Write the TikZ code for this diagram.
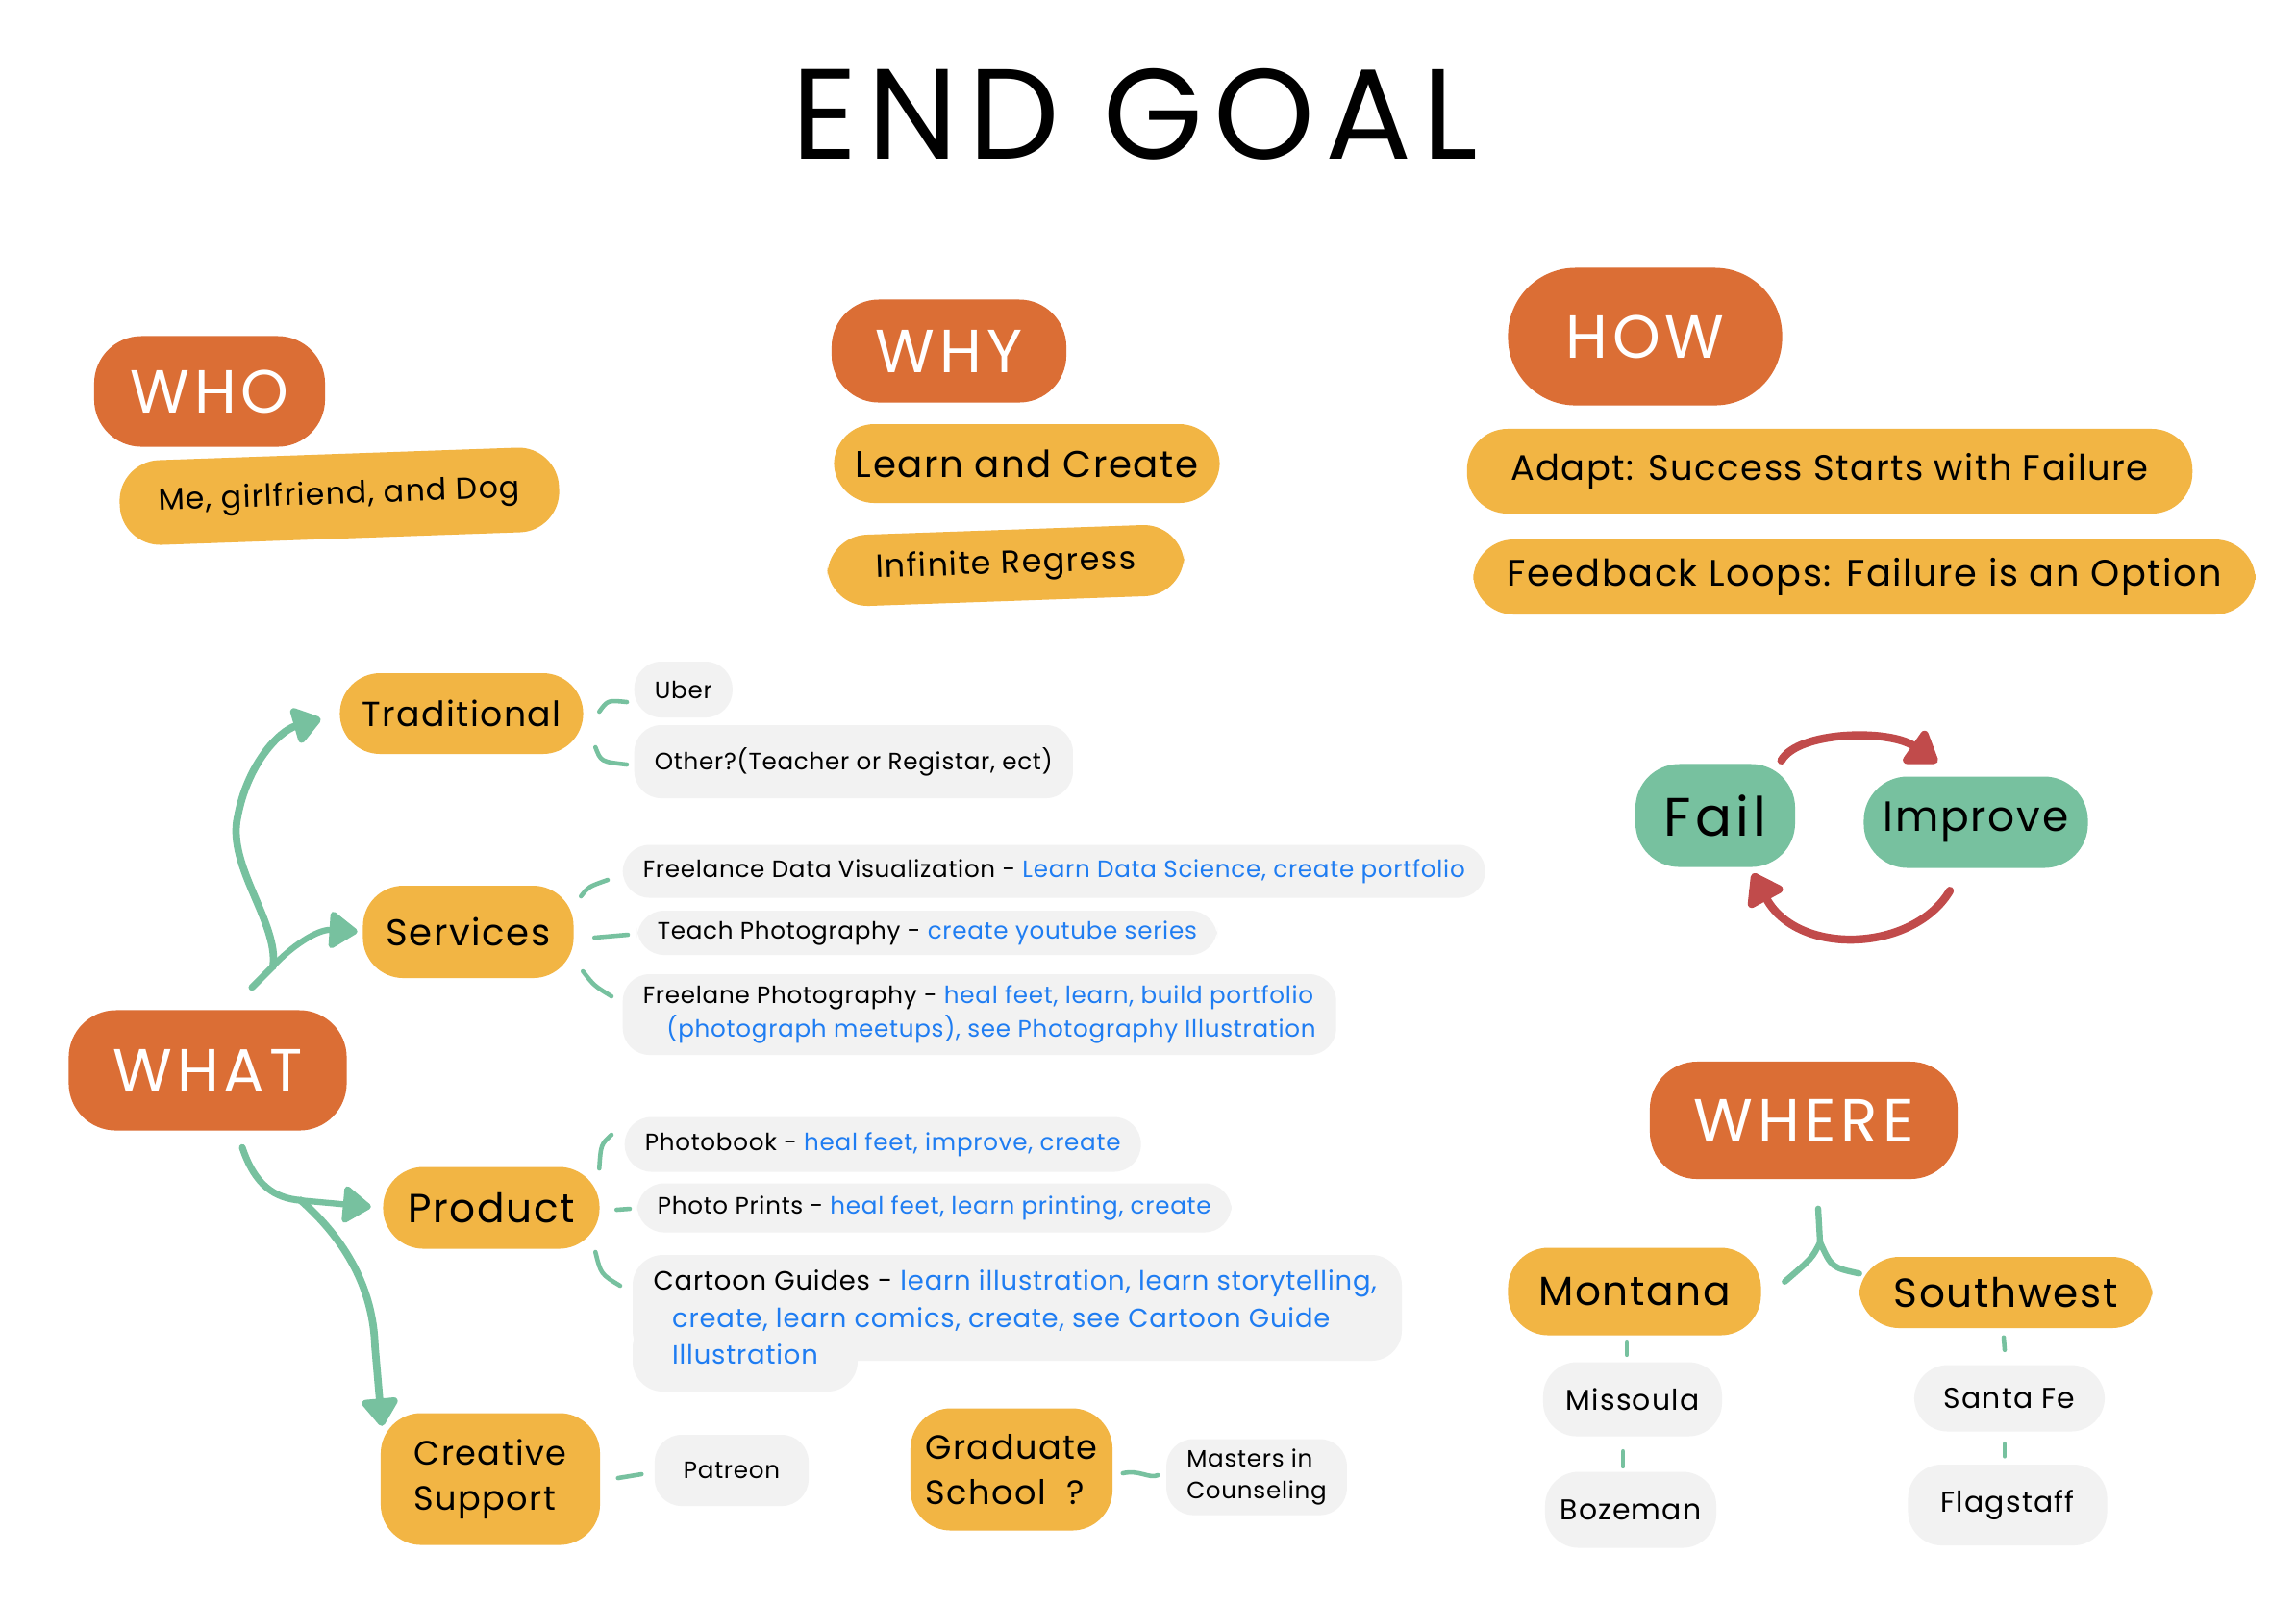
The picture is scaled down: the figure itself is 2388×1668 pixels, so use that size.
\documentclass[tikz,border=0pt]{standalone}
\usepackage{fontspec}
\setmainfont{Poppins}
\newfontfamily\fontLsA[LetterSpace=8]{Poppins}
\newfontfamily\fontLsB[LetterSpace=4]{Poppins}
\newfontfamily\fontLsC[LetterSpace=3]{Poppins}
\usetikzlibrary{arrows.meta,calc}
\definecolor{cOrange}{HTML}{DB6E35}
\definecolor{cYellow}{HTML}{F2B544}
\definecolor{cGreen}{HTML}{77C19F}
\definecolor{cRed}{HTML}{C14B4B}
\definecolor{cGray}{HTML}{F2F2F2}
\definecolor{cBlue}{HTML}{1F7DF2}
\newcommand\fsz[2]{\fontsize{#1pt}{#2pt}\selectfont}
\begin{document}
\begin{tikzpicture}[x=0.01cm,y=-0.01cm,
  cat/.style={fill=cOrange,text=white,font=\fontLsA\fsz{18}{22},inner sep=0pt,rounded corners=14pt},
  ylw/.style={fill=cYellow,text=black,font=\fontLsB\fsz{11.5}{14},inner sep=0pt,rounded corners=12pt},
  grn/.style={fill=cGreen,text=black,font=\fontLsB\fsz{12.5}{15},inner sep=0pt,rounded corners=13pt},
  gry/.style={fill=cGray,text=black,font=\fontLsC\fsz{7}{10},inner xsep=6pt,inner ysep=0pt,rounded corners=8pt},
  gryb/.style={fill=cGray,text=black,font=\fontLsB\fsz{8.5}{10},inner sep=0pt,rounded corners=10pt},
  tick/.style={draw=cGreen,line width=1.3pt,line cap=round},
  conn/.style={draw=cGreen,line width=1.8pt,line cap=round},
  garrow/.style={draw=cGreen,line width=2.2pt,line cap=round,-{Triangle[length=9pt,width=12pt,round]}},
  rarrow/.style={draw=cRed,line width=2.4pt,line cap=round,-{Triangle[length=10pt,width=13pt,round]}}
]
\useasboundingbox (0,0) rectangle (2388,1668);
\fill[white] (0,0) rectangle (2388,1668);

% title
\node[font=\fontLsA\fsz{38}{46}] (title) at (1180,119) {END GOAL};

% WHO
\node[cat,minimum width=2.40cm,minimum height=1.15cm] (who) at (218,407) {WHO};
\node[ylw,rotate=2,minimum width=4.57cm,minimum height=0.88cm,font=\fontLsB\fsz{9}{11}] (who1) at (353,516) {Me, girlfriend, and Dog};

% WHY
\node[cat,minimum width=2.44cm,minimum height=1.07cm] (why) at (987,365) {WHY};
\node[ylw,minimum width=4.01cm,minimum height=0.82cm,font=\fontLsB\fsz{11}{13}] (why1) at (1068,482) {Learn and Create};
\node[ylw,rotate=2,minimum width=3.71cm,minimum height=0.74cm,font=\fontLsB\fsz{9.5}{12}] (why2) at (1046,588) {Infinite Regress};

% HOW
\node[cat,minimum width=2.85cm,minimum height=1.43cm,rounded corners=20pt] (how) at (1711,350) {HOW};
\node[ylw,minimum width=7.54cm,minimum height=0.88cm,font=\fontLsB\fsz{10.5}{13}] (how1) at (1903,490) {Adapt: Success Starts with Failure};
\node[ylw,minimum width=8.13cm,minimum height=0.78cm,font=\fontLsB\fsz{10.9}{13}] (how2) at (1939,600) {Feedback Loops: Failure is an Option};

% Fail / Improve
\node[grn,minimum width=1.66cm,minimum height=1.07cm,font=\fontLsA\fsz{16}{18}] (fail) at (1784,848) {Fail};
\node[grn,minimum width=2.33cm,minimum height=0.95cm] (impr) at (2055,855) {Improve};
\draw[rarrow] ($(fail.north east)+(-15,-3)$) .. controls (1870,760) and (1965,758) .. ($(impr.north)+(-40,-14)$);
\draw[rarrow] ($(impr.south)+(-27,23)$) .. controls (1990,990) and (1870,995) .. ($(fail.south)+(39,6)$);

% WHERE
\node[cat,minimum width=3.20cm,minimum height=1.22cm] (where) at (1876,1165) {WHERE};
\node[ylw,minimum width=2.63cm,minimum height=0.91cm,font=\fontLsB\fsz{12}{14}] (mont) at (1700,1343) {Montana};
\node[ylw,minimum width=3.05cm,minimum height=0.74cm,font=\fontLsB\fsz{12}{14}] (sw) at (2086,1344) {Southwest};
\node[gryb,minimum width=1.86cm,minimum height=0.77cm] (miss) at (1698,1455) {Missoula};
\node[gryb,minimum width=1.78cm,minimum height=0.79cm] (boz) at (1696,1570) {Bozeman};
\node[gryb,minimum width=1.98cm,minimum height=0.69cm] (sfe) at (2090,1454) {Santa Fe};
\node[gryb,minimum width=2.07cm,minimum height=0.84cm] (flag) at (2088,1565) {Flagstaff};
\coordinate (wsplit) at ($(where.south)+(17,65)$);
\draw[conn] ($(where.south)+(15,30)$) -- (wsplit);
\draw[conn] (wsplit) .. controls (1885,1308) .. ($(mont.north east)+(24,36)$);
\draw[conn] (wsplit) .. controls (1905,1318) .. ($(sw.north west)+(1,18)$);
\draw[tick] ($(mont.south)+(-8,6)$) -- ($(miss.north)+(-6,-7)$);
\draw[tick] ($(miss.south)+(-10,15)$) -- ($(boz.north)+(-8,-5)$);
\draw[tick] ($(sw.south)+(-2,9)$) -- ($(sfe.north)+(-5,-15)$);
\draw[tick] ($(sfe.south)+(-5,12)$) -- ($(flag.north)+(-3,-8)$);

% WHAT
\node[cat,minimum width=2.89cm,minimum height=1.25cm] (what) at (216,1113) {WHAT};
\node[ylw,minimum width=2.53cm,minimum height=0.84cm,font=\fontLsB\fsz{10.3}{13}] (trad) at (480,742) {Traditional};
\node[ylw,minimum width=2.19cm,minimum height=0.96cm,font=\fontLsB\fsz{11}{14}] (serv) at (487,969) {Services};
\node[ylw,minimum width=2.25cm,minimum height=0.85cm,font=\fontLsB\fsz{12}{14}] (prod) at (511,1256) {Product};
\node[ylw,minimum width=2.28cm,minimum height=1.37cm,align=left,font=\fontLsB\fsz{10}{13.4}] (crea) at (510,1538) {Creative\\Support};
\node[ylw,minimum width=2.10cm,minimum height=1.27cm,align=left,font=\fontLsB\fsz{10}{13.4}] (grad) at (1052,1528) {Graduate\\School\ \ ?};

% gray leaves
\node[gry,anchor=west,minimum height=0.58cm] (uber) at (659,717) {Uber};
\node[gry,anchor=west,minimum height=0.76cm] (other) at (659,792) {Other?(Teacher or Registar, ect)};
\node[gry,anchor=west,minimum height=0.55cm] (fdv) at (647,906) {Freelance Data Visualization - \textcolor{cBlue}{Learn Data Science, create portfolio}};
\node[gry,anchor=west,minimum height=0.46cm] (teach) at (662,970) {Teach Photography - \textcolor{cBlue}{create youtube series}};
\node[gry,anchor=west,minimum height=0.84cm,align=left] (frph) at (647,1055) {Freelane Photography - \textcolor{cBlue}{heal feet, learn, build portfolio}\\\hspace*{7pt}\textcolor{cBlue}{(photograph meetups), see Photography Illustration}};
\node[gry,anchor=west,minimum height=0.57cm] (pbook) at (649,1190) {Photobook - \textcolor{cBlue}{heal feet, improve, create}};
\node[gry,anchor=west,minimum height=0.51cm] (prints) at (662,1256) {Photo Prints - \textcolor{cBlue}{heal feet, learn printing, create}};
\fill[cGray,rounded corners=9pt] (658,1305) rectangle (1458,1415);
\fill[cGray,rounded corners=9pt] (658,1370) rectangle (892,1447);
\node[anchor=north west,inner sep=0pt,align=left,font=\fontLsC\fsz{7.8}{11}] (cart) at (679,1320) {Cartoon Guides - \textcolor{cBlue}{learn illustration, learn storytelling,}\\\hspace*{5.5pt}\textcolor{cBlue}{create, learn comics, create, see Cartoon Guide}\\\hspace*{5.5pt}\textcolor{cBlue}{Illustration}};
\node[gry,minimum width=1.60cm,minimum height=0.74cm] (patr) at (761,1529) {Patreon};
\node[gry,minimum width=1.79cm,minimum height=0.79cm,align=left,font=\fontLsC\fsz{7}{9.5}] (mast) at (1307,1536) {Masters in\\Counseling};

% ticks
\draw[tick] ($(trad.east)+(16,-2)$) .. controls (632,728) .. ($(uber.west)+(-7,13)$);
\draw[tick] ($(trad.east)+(12,35)$) .. controls (625,792) .. ($(other.west)+(-7,3)$);
\draw[tick] ($(serv.east)+(7,-37)$) .. controls (612,922) .. ($(fdv.west)+(-15,9)$);
\draw[tick] ($(serv.east)+(21,6)$) -- ($(teach.west)+(-9,2)$);
\draw[tick] ($(serv.east)+(9,41)$) .. controls (618,1025) .. ($(frph.west)+(-11,-19)$);
\draw[tick] ($(prod.east)+(-1,-41)$) .. controls (625,1190) .. ($(pbook.west)+(-13,-10)$);
\draw[tick] ($(prod.east)+(17,2)$) -- ($(prints.west)+(-7,1)$);
\draw[tick] ($(prod.east)+(-5,46)$) .. controls (625,1325) .. ($(cart.north west)+(-34,17)$);
\draw[tick] ($(crea.east)+(18,-1)$) -- ($(patr.west)+(-13,4)$);
\draw[tick] ($(grad.east)+(10,4)$) .. controls (1185,1528) and (1195,1538) .. ($(mast.west)+(-8,-2)$);

% WHAT arrows
\coordinate (wfork) at ($(what.north)+(68,-45)$);
\draw[conn,line width=2pt] ($(what.north)+(46,-23)$) -- (wfork);
\draw[garrow,shorten >=0.2cm] (wfork) .. controls (290,960) and (236,900) .. (247,850) .. controls (257,795) and (290,760) .. (trad.west);
\draw[garrow,line width=1.8pt,shorten >=0.05cm] (wfork) .. controls (302,985) and (330,966) .. (serv.west);
\coordinate (wfork2) at ($(what.south)+(97,72)$);
\draw[conn,line width=2pt] ($(what.south)+(36,17)$) .. controls (265,1232) and (285,1246) .. (wfork2);
\draw[garrow,line width=1.8pt,shorten >=0.12cm] (wfork2) -- (prod.west);
\draw[garrow] (wfork2) .. controls (360,1290) and (388,1340) .. (390,1400) -- ($(crea.north west)+(2,14)$);
\end{tikzpicture}
\end{document}
